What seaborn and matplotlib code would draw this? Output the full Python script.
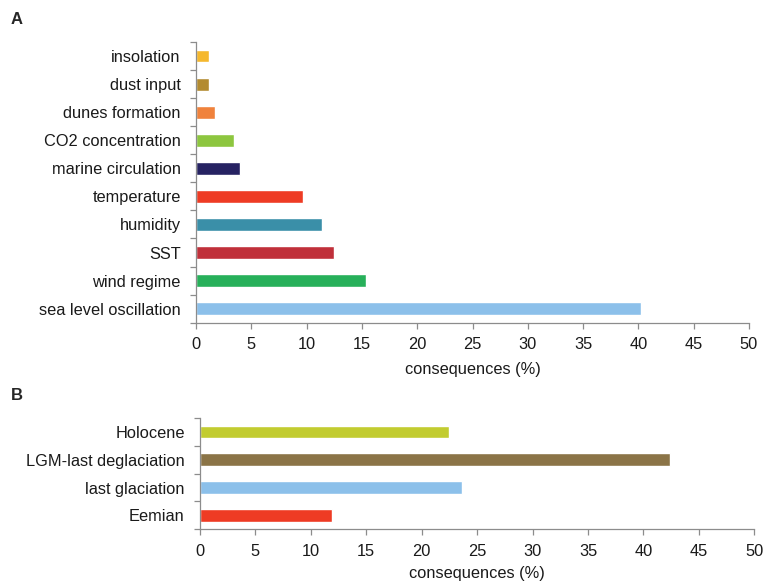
import matplotlib
matplotlib.use("Agg")
import matplotlib.pyplot as plt
import seaborn as sns
import pandas as pd
import numpy as np

# Panel A: consequences by factor
factors = ["insolation", "dust input", "dunes formation", "CO2 concentration",
           "marine circulation", "temperature", "humidity", "SST",
           "wind regime", "sea level oscillation"]
factor_pct = [1.2, 1.2, 1.75, 3.45, 3.95, 9.65, 11.35, 12.45, 15.35, 40.2]
factor_colors = ["#F5B82E", "#B38B30", "#F0823C", "#8DC63F", "#262262",
                 "#EE3B24", "#3A8FA8", "#C0303A", "#27B05A", "#8CC0EA"]

# Panel B: consequences by period
periods = ["Holocene", "LGM-last deglaciation", "last glaciation", "Eemian"]
period_pct = [22.5, 42.4, 23.65, 11.9]
period_colors = ["#C2CC30", "#8B7447", "#8CC0EA", "#EE3B24"]

xticks = [0, 5, 10, 15, 20, 25, 30, 35, 40, 45, 50]

sns.set_theme(style="white")
plt.rcParams["font.family"] = ["Liberation Sans", "DejaVu Sans"]

fig = plt.figure(figsize=(7.64, 5.81), dpi=100)
W, H = 764, 581


def px_axes(left, top, right, bottom):
    return fig.add_axes([left / W, 1 - bottom / H, (right - left) / W, (bottom - top) / H])


axA = px_axes(196, 42, 749, 322.7)
axB = px_axes(200, 418, 754.3, 529.3)

SPINE = "#8C8C8C"
FS = 11.8
TXT = "#1a1a1a"


def draw(ax, cats, vals, cols, xlabelpad):
    df = pd.DataFrame({"cat": cats, "val": vals})
    sns.barplot(data=df, y="cat", x="val", hue="cat", palette=dict(zip(cats, cols)),
                order=cats, hue_order=cats, width=0.46, legend=False,
                saturation=1, ax=ax, orient="h")
    n = len(cats)
    ax.set_xlim(0, 50)
    ax.set_ylim(n - 0.5, -0.5)
    ax.set_xticks(xticks)
    ax.set_xticklabels([str(t) for t in xticks], fontsize=FS, color=TXT)
    ax.set_yticks(range(n))
    ax.set_yticklabels(cats, fontsize=FS, color=TXT)
    ax.set_yticks(np.arange(-0.5, n, 1.0), minor=True)
    ax.tick_params(axis="y", which="major", length=0, pad=11)
    ax.tick_params(axis="y", which="minor", length=4, width=0.9, color=SPINE, direction="out", left=True)
    ax.tick_params(axis="x", which="major", length=4, width=0.9, color=SPINE, direction="out", bottom=True, pad=6.5)
    for side in ["top", "right"]:
        ax.spines[side].set_visible(False)
    for side in ["left", "bottom"]:
        ax.spines[side].set_color(SPINE)
        ax.spines[side].set_linewidth(0.9)
    ax.set_ylabel("")
    ax.set_xlabel("consequences (%)", fontsize=FS, color=TXT, labelpad=xlabelpad)


draw(axA, factors, factor_pct, factor_colors, 7)
draw(axB, periods, period_pct, period_colors, 5)

fig.text(11 / W, 1 - 20 / H, "A", fontsize=12, fontweight="bold", va="center", ha="left")
fig.text(11 / W, 1 - 395 / H, "B", fontsize=12, fontweight="bold", va="center", ha="left")

fig.savefig("out.png", dpi=100, facecolor="white")
